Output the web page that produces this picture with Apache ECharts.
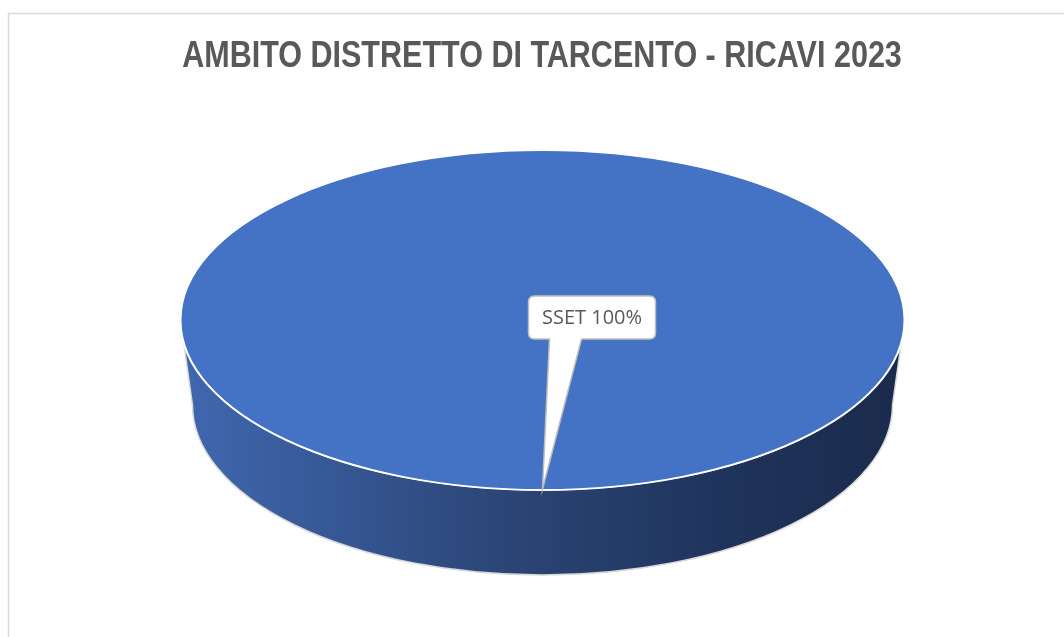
<!DOCTYPE html>
<html>
<head>
<meta charset="utf-8">
<title>Ambito Distretto di Tarcento - Ricavi 2023</title>
<script src="https://cdn.jsdelivr.net/npm/echarts@6/dist/echarts.min.js"></script>
<style>
    html, body { margin: 0; padding: 0; background: #fff; }
    #main { width: 1064px; height: 637px; }
</style>
</head>
<body>
<div id="main"></div>
<script>
/*数据*/
var categories = ['SSET'];
var values = [100];
var titleText = 'AMBITO DISTRETTO DI TARCENTO - RICAVI 2023';

var total = values.reduce(function (s, v) { return s + v; }, 0);

/*饼图几何 (top ellipse + bottom ellipse for the 3D side)*/
var geo = {
    cx: 542.5, cy: 320, rx: 362, ry: 170,
    cy2: 405, rx2: 350, ry2: 170
};

function pt(a, rx, ry, cy) {
    return [geo.cx + rx * Math.cos(a), cy + ry * Math.sin(a)];
}

var renderSlice = function (params, api) {
    var i = params.dataIndex;
    var before = 0;
    for (var k = 0; k < i; k++) before += values[k];
    var start = -Math.PI / 2 + before / total * Math.PI * 2;
    var span = api.value(0) / total * Math.PI * 2;
    var end = start + span;
    var mid = start + span / 2;
    var children = [];

    /*侧面*/
    if (i === 0) {
        var l = [geo.cx - geo.rx, geo.cy], r = [geo.cx + geo.rx, geo.cy];
        var r2 = [geo.cx + geo.rx2, geo.cy2], l2 = [geo.cx - geo.rx2, geo.cy2];
        children.push({
            type: 'path',
            shape: {
                pathData: 'M' + l[0] + ' ' + l[1] +
                    ' A' + geo.rx + ' ' + geo.ry + ' 0 0 0 ' + r[0] + ' ' + r[1] +
                    ' L' + r2[0] + ' ' + r2[1] +
                    ' A' + geo.rx2 + ' ' + geo.ry2 + ' 0 0 1 ' + l2[0] + ' ' + l2[1] + ' Z'
            },
            style: {
                fill: new echarts.graphic.LinearGradient(0, 0, 1, 0, [
                    { offset: 0, color: '#4068b0' },
                    { offset: 0.45, color: '#2b4576' },
                    { offset: 0.75, color: '#1f345c' },
                    { offset: 1, color: '#1a2a4b' }
                ]),
                stroke: '#d8d8d8',
                lineWidth: 1.5
            }
        });
    }

    /*顶面*/
    if (span >= Math.PI * 2 - 1e-6) {
        children.push({
            type: 'ellipse',
            shape: { cx: geo.cx, cy: geo.cy, rx: geo.rx, ry: geo.ry },
            style: { fill: '#4472c4', stroke: '#ffffff', lineWidth: 2 }
        });
    } else {
        var p0 = pt(start, geo.rx, geo.ry, geo.cy), p1 = pt(end, geo.rx, geo.ry, geo.cy);
        children.push({
            type: 'path',
            shape: {
                pathData: 'M' + geo.cx + ' ' + geo.cy + ' L' + p0[0] + ' ' + p0[1] +
                    ' A' + geo.rx + ' ' + geo.ry + ' 0 ' + (span > Math.PI ? 1 : 0) + ' 1 ' +
                    p1[0] + ' ' + p1[1] + ' Z'
            },
            style: { fill: '#4472c4', stroke: '#ffffff', lineWidth: 2 }
        });
    }

    /*标签 callout*/
    var tip = pt(mid, geo.rx, geo.ry, geo.cy);
    var bx0 = tip[0] - 14, by0 = 296, bw = 127, bh = 43, rr = 6;
    var bx1 = bx0 + bw, by1 = by0 + bh;
    var pa = bx0 + 21, pb = bx0 + 53;
    var d = 'M' + (bx0 + rr) + ' ' + by0 +
        ' L' + (bx1 - rr) + ' ' + by0 +
        ' Q' + bx1 + ' ' + by0 + ' ' + bx1 + ' ' + (by0 + rr) +
        ' L' + bx1 + ' ' + (by1 - rr) +
        ' Q' + bx1 + ' ' + by1 + ' ' + (bx1 - rr) + ' ' + by1 +
        ' L' + pb + ' ' + by1 +
        ' L' + tip[0] + ' ' + (tip[1] - 1) +
        ' L' + pa + ' ' + by1 +
        ' L' + (bx0 + rr) + ' ' + by1 +
        ' Q' + bx0 + ' ' + by1 + ' ' + bx0 + ' ' + (by1 - rr) +
        ' L' + bx0 + ' ' + (by0 + rr) +
        ' Q' + bx0 + ' ' + by0 + ' ' + (bx0 + rr) + ' ' + by0 + ' Z';
    children.push({
        type: 'path',
        shape: { pathData: d },
        style: { fill: '#ffffff', stroke: '#bfbfbf', lineWidth: 1.5 }
    });
    children.push({
        type: 'text',
        style: {
            text: categories[i] + ' ' + Math.round(api.value(0) / total * 100) + '%',
            x: (bx0 + bx1) / 2,
            y: (by0 + by1) / 2 + 1,
            align: 'center',
            verticalAlign: 'middle',
            fill: '#595959',
            fontSize: 20,
            fontFamily: '"Open Sans", sans-serif'
        }
    });

    return { type: 'group', children: children };
};

var box = document.getElementById('main');
var myChart = echarts.init(box, null, { renderer: 'canvas' });
var options = {
    backgroundColor: '#ffffff',
    animation: false,
    graphic: [{
        type: 'rect',
        z: -10,
        shape: { x: 8.5, y: 13.5, width: 1200, height: 800 },
        style: { fill: 'none', stroke: '#d9d9d9', lineWidth: 1.5 }
    }, {
        /*标题: no narrow font installed, so squeeze a bold sans horizontally*/
        type: 'text',
        x: 542,
        y: 57,
        scaleX: 0.825,
        style: {
            text: titleText,
            align: 'center',
            verticalAlign: 'middle',
            fontFamily: '"Liberation Sans", Arial, sans-serif',
            fontSize: 37,
            fontWeight: 'bold',
            fill: '#595959'
        }
    }],
    series: [{
        type: 'custom',
        coordinateSystem: 'none',
        renderItem: renderSlice,
        data: values.map(function (v) { return [v]; })
    }]
};
myChart.setOption(options);
</script>
</body>
</html>
